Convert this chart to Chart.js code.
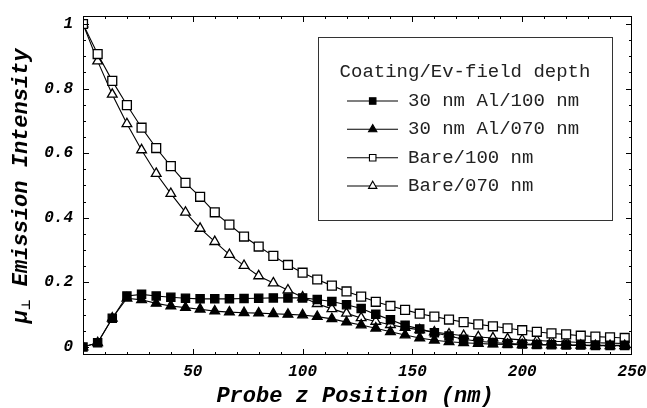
<!DOCTYPE html>
<html lang="en">
<head>
    <meta charset="UTF-8">
    <title>Emission Intensity vs Probe z Position</title>
    <style>
        body {
            margin: 0;
            background-color: #fff;
        }
        canvas {
            display: block;
        }
    </style>
</head>
<body>

<canvas id="emissionChart" width="647" height="408"></canvas>

<script src="https://cdn.jsdelivr.net/npm/chart.js"></script>
<script>
    // probe z position (nm)
    const zPositions = [0, 6.67, 13.33, 20, 26.67, 33.33, 40, 46.67, 53.33, 60,
        66.67, 73.33, 80, 86.67, 93.33, 100, 106.67, 113.33, 120, 126.67,
        133.33, 140, 146.67, 153.33, 160, 166.67, 173.33, 180, 186.67, 193.33,
        200, 206.67, 213.33, 220, 226.67, 233.33, 240, 246.67];

    const al100 = [0.000, 0.013, 0.089, 0.158, 0.163, 0.158, 0.154, 0.151, 0.149, 0.149,
        0.149, 0.150, 0.151, 0.152, 0.152, 0.152, 0.147, 0.141, 0.131, 0.119,
        0.101, 0.084, 0.067, 0.056, 0.044, 0.034, 0.024, 0.018, 0.014, 0.011,
        0.009, 0.008, 0.007, 0.006, 0.006, 0.005, 0.005, 0.005];

    const al070 = [0.000, 0.013, 0.089, 0.151, 0.146, 0.135, 0.127, 0.122, 0.117, 0.111,
        0.108, 0.106, 0.105, 0.103, 0.101, 0.099, 0.094, 0.087, 0.077, 0.068,
        0.058, 0.047, 0.037, 0.028, 0.021, 0.016, 0.013, 0.011, 0.009, 0.008,
        0.007, 0.006, 0.006, 0.005, 0.005, 0.004, 0.004, 0.004];

    const bare100 = [1.000, 0.907, 0.824, 0.749, 0.679, 0.616, 0.560, 0.508, 0.465, 0.417,
        0.379, 0.342, 0.311, 0.282, 0.254, 0.230, 0.209, 0.190, 0.172, 0.156,
        0.140, 0.127, 0.115, 0.103, 0.094, 0.085, 0.077, 0.070, 0.064, 0.058,
        0.052, 0.047, 0.042, 0.039, 0.035, 0.032, 0.030, 0.028];

    const bare070 = [1.000, 0.885, 0.782, 0.691, 0.610, 0.537, 0.475, 0.417, 0.367, 0.326,
        0.286, 0.252, 0.220, 0.198, 0.176, 0.154, 0.134, 0.118, 0.104, 0.090,
        0.079, 0.069, 0.060, 0.053, 0.046, 0.040, 0.035, 0.031, 0.028, 0.025,
        0.022, 0.020, 0.018, 0.016, 0.014, 0.013, 0.012, 0.011];

    const seriesLabels = ['30 nm Al/100 nm', '30 nm Al/070 nm', 'Bare/100 nm', 'Bare/070 nm'];
    const legendTitle = 'Coating/Ev-field depth';
    const xTickLabels = [50, 100, 150, 200, 250];
    const yTickLabels = [0, 0.2, 0.4, 0.6, 0.8, 1];

    const tickFont = { family: 'Liberation Mono', size: 16, style: 'italic', weight: 'bold' };
    const titleFont = 'italic bold 22px "Liberation Mono"';
    const legendFont = '19px "Liberation Mono"';

    function toPoints(values) {
        return values.map((v, i) => ({ x: zPositions[i], y: v }));
    }

    function isMultiple(v, step) {
        return Math.abs(v / step - Math.round(v / step)) < 1e-6;
    }

    function makeSeries(label, values, style, filled, radius) {
        return {
            label: label,
            data: toPoints(values),
            showLine: true,
            borderColor: '#000',
            borderWidth: 1.1,
            pointStyle: style,
            pointRadius: radius,
            pointHoverRadius: radius,
            pointBackgroundColor: filled ? '#000' : '#fff',
            pointBorderColor: '#000',
            pointBorderWidth: 1.3,
            tension: 0
        };
    }

    // frame with inward ticks, legend box and axis titles
    const framePlugin = {
        id: 'frame',
        afterDraw(chart) {
            const ctx = chart.ctx;
            const { left, right, top, bottom } = chart.chartArea;
            const xs = chart.scales.x;
            const ys = chart.scales.y;
            ctx.save();
            ctx.strokeStyle = '#000';
            ctx.lineWidth = 1;
            ctx.strokeRect(left + 0.5, top + 0.5, right - left - 1, bottom - top - 1);

            ctx.beginPath();
            xs.ticks.forEach(t => {
                if (!isMultiple(t.value, 10)) return;
                const px = Math.round(xs.getPixelForValue(t.value)) + 0.5;
                if (px <= left + 1 || px >= right - 1) return;
                const len = xTickLabels.includes(t.value) ? 6 : 3;
                ctx.moveTo(px, bottom); ctx.lineTo(px, bottom - len);
                ctx.moveTo(px, top); ctx.lineTo(px, top + len);
            });
            ys.ticks.forEach(t => {
                if (!isMultiple(t.value, 0.05)) return;
                const py = Math.round(ys.getPixelForValue(t.value)) + 0.5;
                const major = yTickLabels.some(v => Math.abs(v - t.value) < 1e-6);
                const len = major ? 6 : 3;
                ctx.moveTo(left, py); ctx.lineTo(left + len, py);
                ctx.moveTo(right, py); ctx.lineTo(right - len, py);
            });
            ctx.stroke();

            // legend
            ctx.fillStyle = '#fff';
            ctx.fillRect(318.5, 37.5, 294, 183);
            ctx.strokeStyle = '#333';
            ctx.strokeRect(318.5, 37.5, 294, 183);
            ctx.fillStyle = '#222';
            ctx.font = legendFont;
            ctx.textBaseline = 'middle';
            ctx.textAlign = 'center';
            ctx.fillText(legendTitle, 465, 72);
            ctx.textAlign = 'left';
            const rowY = [101, 129.3, 157.7, 186];
            chart.data.datasets.forEach((ds, i) => {
                const y = rowY[i];
                ctx.strokeStyle = '#000';
                ctx.lineWidth = 1.1;
                ctx.beginPath();
                ctx.moveTo(347, y); ctx.lineTo(398, y);
                ctx.stroke();
                ctx.fillStyle = ds.pointBackgroundColor;
                ctx.lineWidth = 1.1;
                Chart.helpers.drawPoint(ctx, {
                    pointStyle: ds.pointStyle,
                    radius: ds.pointStyle === 'rect' ? 4.6 : 4.8,
                    rotation: 0,
                    borderWidth: 1.1
                }, 372.7, y);
                ctx.fillStyle = '#222';
                ctx.fillText(ds.label, 408, y);
            });

            // axis titles
            ctx.fillStyle = '#000';
            ctx.font = titleFont;
            ctx.textAlign = 'center';
            ctx.fillText('Probe z Position (nm)', 355, 396);

            ctx.translate(21, 186);
            ctx.rotate(-Math.PI / 2);
            ctx.textAlign = 'left';
            const mu = 'μ';
            const sub = '⊥';
            const rest = ' Emission Intensity';
            ctx.font = titleFont;
            const wMu = ctx.measureText(mu).width;
            const wRest = ctx.measureText(rest).width;
            ctx.font = 'bold 12px "DejaVu Sans"';
            const wSub = ctx.measureText(sub).width;
            let x0 = -(wMu + wSub + wRest) / 2;
            ctx.font = titleFont;
            ctx.fillText(mu, x0, 0);
            ctx.font = 'bold 12px "DejaVu Sans"';
            ctx.fillText(sub, x0 + wMu, 6);
            ctx.font = titleFont;
            ctx.fillText(rest, x0 + wMu + wSub, 0);
            ctx.restore();
        }
    };

    const config = {
        type: 'scatter',
        data: {
            datasets: [
                makeSeries(seriesLabels[0], al100, 'rect', true, 5.8),
                makeSeries(seriesLabels[1], al070, 'triangle', true, 5.6),
                makeSeries(seriesLabels[2], bare100, 'rect', false, 6.3),
                makeSeries(seriesLabels[3], bare070, 'triangle', false, 5.6)
            ]
        },
        options: {
            responsive: false,
            animation: false,
            devicePixelRatio: 1,
            layout: { padding: { top: 16, right: 15, left: 0, bottom: 0 } },
            plugins: {
                legend: { display: false },
                tooltip: { enabled: false }
            },
            scales: {
                x: {
                    type: 'linear',
                    min: 0,
                    max: 250,
                    grid: { display: false, drawTicks: false },
                    border: { display: false },
                    afterFit(scale) {
                        scale.height = 53;
                        scale.paddingLeft = 0;
                        scale.paddingRight = 0;
                    },
                    ticks: {
                        stepSize: 10,
                        autoSkip: false,
                        includeBounds: false,
                        maxRotation: 0,
                        padding: 7,
                        color: '#000',
                        font: tickFont,
                        callback: v => xTickLabels.includes(v) ? String(v) : ''
                    }
                },
                y: {
                    type: 'linear',
                    min: -0.0248,
                    max: 1.0248,
                    grid: { display: false, drawTicks: false },
                    border: { display: false },
                    afterFit(scale) {
                        scale.width = 83;
                        scale.paddingTop = 0;
                        scale.paddingBottom = 0;
                    },
                    ticks: {
                        stepSize: 0.05,
                        autoSkip: false,
                        includeBounds: false,
                        padding: 10,
                        color: '#000',
                        font: tickFont,
                        callback: v => {
                            const hit = yTickLabels.find(t => Math.abs(t - v) < 1e-6);
                            return hit === undefined ? '' : String(hit);
                        }
                    }
                }
            }
        },
        plugins: [framePlugin]
    };

    window.onload = function() {
        const ctx = document.getElementById('emissionChart').getContext('2d');
        window.emissionChart = new Chart(ctx, config);
    };
</script>

</body>
</html>
